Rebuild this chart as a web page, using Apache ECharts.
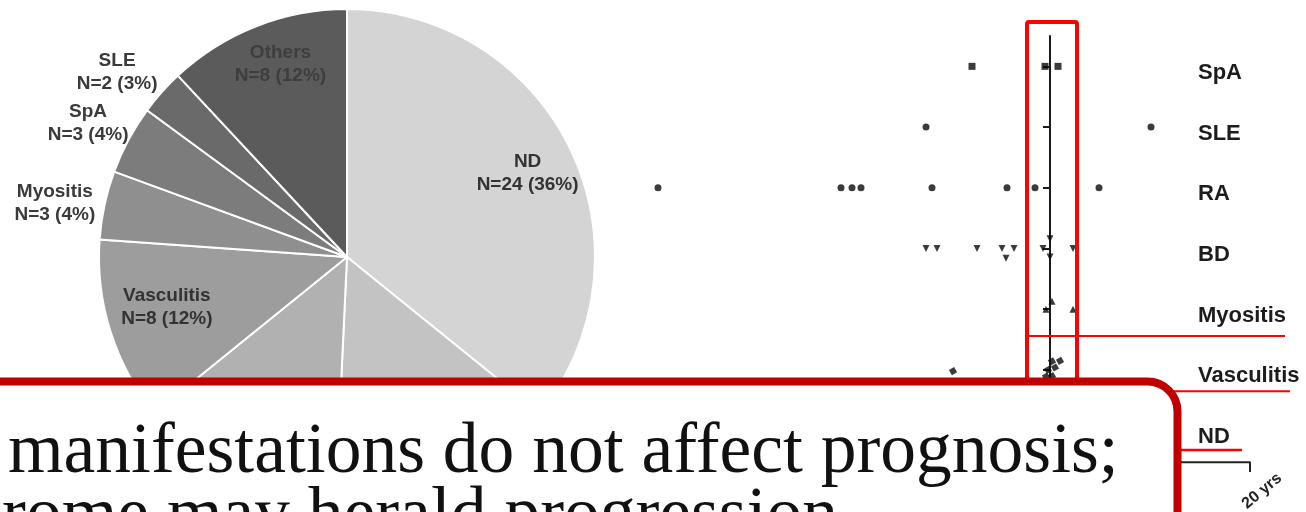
<!DOCTYPE html>
<html>
<head>
<meta charset="utf-8">
<script src="https://cdn.jsdelivr.net/npm/echarts@6/dist/echarts.min.js"></script>
<style>
  html, body { margin: 0; padding: 0; background: #fff; }
  #chart { width: 1306px; height: 512px; }
</style>
</head>
<body>
<div id="chart"></div>
<script>
// ---- Pie: diagnoses in the cohort ----
const pieNames  = ['ND', 'BD', 'RA', 'Vasculitis', 'Myositis', 'SpA', 'SLE', 'Others'];
const pieCounts = [24, 10, 9, 8, 3, 3, 2, 8];

// ---- Dot plot: rows (top to bottom) and years of each patient relative to the reference line ----
const rowNames = ['SpA', 'SLE', 'RA', 'BD', 'Myositis', 'Vasculitis', 'ND'];
const spaYears   = [-7.8, -0.5, 0.8];
const sleYears   = [-12.4, 10.1];
const raYears    = [-39.2, -20.9, -19.8, -18.9, -11.8, -4.3, -1.5, 4.9];
const bdYears    = [-12.4, -11.3, -7.3, -4.8, -3.6, -4.4, -0.7, 2.3, 0, 0];
const bdSpread   = [0, 0, 0, 0, 0, 0.16, 0, 0, -0.16, 0.14];
const myoYears   = [0.2, 2.3, -0.4];
const myoSpread  = [-0.13, 0, 0];
const vascYears  = [-9.7, 0.2, 1.0, -0.2, 0.5, 0.2, -0.4];
const vascSpread = [0.02, -0.14, -0.15, 0, -0.04, 0.1, 0.11];
const scaleBarYears = 20;

const pieTotal = pieCounts.reduce((a, b) => a + b, 0);

// slice fills, light to dark
const pieColors = ['#d4d4d4', '#c3c3c3', '#b1b1b1', '#9d9d9d', '#8f8f8f', '#7c7c7c', '#6a6a6a', '#5b5b5b'];
// label shift from the default inside position, px
const pieLabelShift = [[66, -29], [0, 56], [0, 56], [-59, 12], [-168, -27], [-147, -74], [-135, -100], [-20, -75]];
const pieLabelColor = ['#333', '#333', '#333', '#333', '#3a3a3a', '#3a3a3a', '#3a3a3a', '#3e3e3e'];

function rowPoints(years, rowIdx, spread) {
  return years.map((v, i) => [v, rowIdx + (spread ? spread[i] : 0)]);
}

const chart = echarts.init(document.getElementById('chart'), null, { renderer: 'canvas' });

const dotStyle = { color: '#0a0a0a' };
const sans = '"Liberation Sans", Arial, sans-serif';
const serif = '"Liberation Serif", "DejaVu Serif", serif';

const xMin = -45, xMax = 25;
const gridLeft = 600, gridWidth = 700;

const option = {
  animation: false,
  textStyle: { fontFamily: sans },
  grid: { left: gridLeft, width: gridWidth, top: 36, height: 425, outerBoundsMode: 'none', containLabel: false },
  xAxis: {
    type: 'value', min: xMin, max: xMax,
    axisLine: { show: false }, axisTick: { show: false }, axisLabel: { show: false }, splitLine: { show: false }
  },
  yAxis: [
    {
      // row axis sits on year 0
      type: 'category', data: rowNames, inverse: true, boundaryGap: true,
      position: 'left', offset: -gridWidth * (0 - xMin) / (xMax - xMin),
      axisLine: { show: true, onZero: false, lineStyle: { color: '#1a1a1a', width: 2 } },
      axisTick: { show: true, inside: false, alignWithLabel: true, length: 7, lineStyle: { color: '#1a1a1a', width: 2 } },
      axisLabel: {
        show: true, align: 'left', margin: -148, fontSize: 22, fontWeight: 'bold', color: '#1c1c1c',
        verticalAlign: 'top', lineHeight: 13
      },
      splitLine: { show: false }
    },
    { type: 'value', min: -0.5, max: 6.5, inverse: true, show: false }
  ],
  series: [
    {
      type: 'pie',
      center: [347, 257],
      radius: 248,
      startAngle: 90,
      clockwise: true,
      silent: true,
      itemStyle: { borderColor: '#fff', borderWidth: 2 },
      label: {
        show: true, position: 'inside',
        fontSize: 19, fontWeight: 'bold', lineHeight: 23,
        formatter: p => p.name + '\nN=' + p.value + ' (' + Math.round(p.value / pieTotal * 100) + '%)'
      },
      labelLine: { show: false },
      labelLayout: p => ({ dx: pieLabelShift[p.dataIndex][0], dy: pieLabelShift[p.dataIndex][1] }),
      data: pieNames.map((n, i) => ({
        name: n, value: pieCounts[i],
        itemStyle: { color: pieColors[i] },
        label: { color: pieLabelColor[i] }
      }))
    },
    { type: 'scatter', yAxisIndex: 1, symbol: 'rect', symbolSize: 7, itemStyle: dotStyle, data: rowPoints(spaYears, 0) },
    { type: 'scatter', yAxisIndex: 1, symbol: 'circle', symbolSize: 7, itemStyle: dotStyle, data: rowPoints(sleYears, 1) },
    { type: 'scatter', yAxisIndex: 1, symbol: 'circle', symbolSize: 7, itemStyle: dotStyle, data: rowPoints(raYears, 2) },
    { type: 'scatter', yAxisIndex: 1, symbol: 'triangle', symbolRotate: 180, symbolSize: 7, itemStyle: dotStyle, data: rowPoints(bdYears, 3, bdSpread) },
    { type: 'scatter', yAxisIndex: 1, symbol: 'triangle', symbolSize: 7, itemStyle: dotStyle, data: rowPoints(myoYears, 4, myoSpread) },
    { type: 'scatter', yAxisIndex: 1, symbol: 'rect', symbolRotate: 30, symbolSize: 6, itemStyle: dotStyle, data: rowPoints(vascYears, 5, vascSpread) },
    // scale bar
    {
      type: 'line', yAxisIndex: 1, clip: false, symbol: 'none', silent: true,
      lineStyle: { color: '#222', width: 2 },
      data: [[0, 6.52], [scaleBarYears, 6.52], [scaleBarYears, 6.68]]
    }
  ]
};

chart.setOption(option);

// annotation layer, positioned in data units through the grid and drawn straight on the canvas
const zr = chart.getZr();
const G = echarts.graphic;
const px = (x, y) => chart.convertToPixel({ xAxisIndex: 0, yAxisIndex: 1 }, [x, y]);
const red = '#ff0000';
const boxTL = px(-2.3, -0.73), boxBR = px(2.7, 5.8);

zr.add(new G.Rect({
  z: 50, silent: true,
  shape: { x: boxTL[0], y: boxTL[1], width: boxBR[0] - boxTL[0], height: boxBR[1] - boxTL[1], r: 2 },
  style: { fill: null, stroke: red, lineWidth: 4 }
}));

[[-2.3, 23.5, 4.44, 2], [5, 24, 5.35, 2], [12, 19.2, 6.32, 2.5]].forEach(([xa, xb, y, w]) => {
  const a = px(xa, y), b = px(xb, y);
  zr.add(new G.Line({ z: 50, silent: true, shape: { x1: a[0], y1: a[1], x2: b[0], y2: b[1] }, style: { stroke: red, lineWidth: w } }));
});

const barEnd = px(scaleBarYears, 6.68);
zr.add(new G.Text({
  z: 50, silent: true,
  x: barEnd[0] + 12, y: barEnd[1] + 19, rotation: Math.PI * 40 / 180,
  style: { text: scaleBarYears + ' yrs', font: 'bold 16px ' + sans, fill: '#222', align: 'center', verticalAlign: 'middle' }
}));

// callout box
zr.add(new G.Rect({
  z: 100, silent: true,
  shape: { x: -60, y: 381.5, width: 1177.5 + 60, height: 300, r: 30 },
  style: { fill: '#fff', stroke: '#c00000', lineWidth: 8 }
}));
zr.add(new G.Text({
  z: 101, silent: true,
  style: { text: 'manifestations do not affect prognosis;', x: 8, y: 453, font: '71.5px ' + serif, fill: '#111', align: 'left', verticalAlign: 'middle' }
}));
zr.add(new G.Text({
  z: 101, silent: true,
  style: { text: 'syndrome may herald progression', x: 838, y: 517, font: '71.5px ' + serif, fill: '#111', align: 'right', verticalAlign: 'middle' }
}));
</script>
</body>
</html>
